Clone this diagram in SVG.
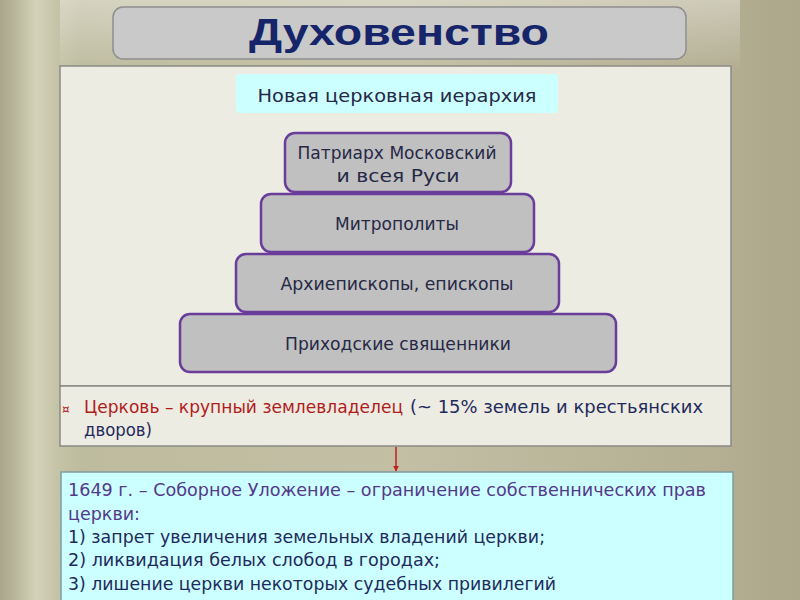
<svg xmlns="http://www.w3.org/2000/svg" width="800" height="600" viewBox="0 0 800 600">
<defs>
<linearGradient id="bg" x1="0" y1="0" x2="1" y2="0">
<stop offset="0" stop-color="#a9a68a"/>
<stop offset="0.02" stop-color="#b9b79c"/>
<stop offset="0.045" stop-color="#d4d3b9"/>
<stop offset="0.07" stop-color="#c6c4a8"/>
<stop offset="0.1" stop-color="#bebc9f"/>
<stop offset="0.5" stop-color="#c2bfa4"/>
<stop offset="0.9" stop-color="#b4af93"/>
<stop offset="1" stop-color="#aca78b"/>
</linearGradient>
<linearGradient id="shine" x1="0" y1="0" x2="0" y2="1">
<stop offset="0" stop-color="#ffffff" stop-opacity="0.35"/>
<stop offset="1" stop-color="#ffffff" stop-opacity="0"/>
</linearGradient>
<marker id="arr" viewBox="0 0 10 10" refX="9" refY="5" markerWidth="6" markerHeight="6" orient="auto" markerUnits="userSpaceOnUse">
<path d="M0,0 L10,5 L0,10 z" fill="#c0201c"/>
</marker>
<style>
.lvl{fill:#c0c0c0;stroke:#6a3d9a;stroke-width:2.5}
.t{font-family:"DejaVu Sans","Liberation Sans",sans-serif;font-size:18px;fill:#262846;text-anchor:middle}
.b{font-family:"DejaVu Sans","Liberation Sans",sans-serif;font-size:17px}
.panel{fill:#edece3;stroke:#8a8a84;stroke-width:1.5}
</style>
</defs>
<rect x="0" y="0" width="800" height="600" fill="url(#bg)"/>
<rect x="60" y="0" width="680" height="70" fill="url(#shine)"/>

<g id="title">
<rect x="113" y="7" width="573" height="52" rx="10" fill="#c9c9c9" stroke="#8e8e8e" stroke-width="1.5"/>
<text x="399" y="45" text-anchor="middle" font-family="'Liberation Sans',Arial,sans-serif" font-weight="bold" font-size="37" fill="#16246a" textLength="300" lengthAdjust="spacingAndGlyphs">Духовенство</text>
</g>

<g id="main-panel">
<rect class="panel" x="60" y="66" width="671" height="320"/>
</g>

<g id="subtitle">
<rect x="236" y="74" width="322" height="39" rx="4" fill="#ccffff"/>
<text class="t" x="397" y="102" fill="#3c2e6e" textLength="279" lengthAdjust="spacingAndGlyphs">Новая церковная иерархия</text>
</g>

<g id="level4">
<rect class="lvl" x="180" y="314" width="436" height="58" rx="10"/>
<text class="t" x="398" y="350" textLength="226" lengthAdjust="spacingAndGlyphs">Приходские священники</text>
</g>
<g id="level3">
<rect class="lvl" x="236" y="254" width="323" height="58" rx="10"/>
<text class="t" x="397" y="290" textLength="233" lengthAdjust="spacingAndGlyphs">Архиепископы, епископы</text>
</g>
<g id="level2">
<rect class="lvl" x="261" y="194" width="273" height="58" rx="10"/>
<text class="t" x="397" y="230" textLength="124" lengthAdjust="spacingAndGlyphs">Митрополиты</text>
</g>
<g id="level1">
<rect class="lvl" x="285" y="133" width="226" height="59" rx="10"/>
<text class="t" x="397" y="159" textLength="199" lengthAdjust="spacingAndGlyphs">Патриарх Московский</text>
<text class="t" x="398" y="182" textLength="123" lengthAdjust="spacingAndGlyphs">и всея Руси</text>
</g>

<g id="land-panel">
<rect class="panel" x="60" y="386" width="671" height="60"/>
<text class="b" y="413"><tspan x="62" fill="#b01c1c" font-size="12">¤</tspan><tspan x="84" fill="#b01c1c" textLength="319" lengthAdjust="spacingAndGlyphs">Церковь – крупный землевладелец</tspan><tspan x="410" fill="#1f2a5c" textLength="293" lengthAdjust="spacingAndGlyphs">(~ 15% земель и крестьянских</tspan></text>
<text class="b" x="84" y="436" fill="#1f2a5c" textLength="68" lengthAdjust="spacingAndGlyphs">дворов)</text>
</g>

<g id="connectors">
<line x1="396" y1="447" x2="396" y2="471" stroke="#c0201c" stroke-width="1.5" marker-end="url(#arr)"/>
</g>

<g id="sobor-box">
<rect x="61" y="472" width="672" height="132" fill="#ccffff" stroke="#7f9c9c" stroke-width="1.5"/>
<text class="b" x="68" y="496" fill="#54398a" textLength="638" lengthAdjust="spacingAndGlyphs">1649 г. – Соборное Уложение – ограничение собственнических прав</text>
<text class="b" x="68" y="520" fill="#54398a" textLength="72" lengthAdjust="spacingAndGlyphs">церкви:</text>
<text class="b" x="68" y="543" fill="#1f2a5c" textLength="477" lengthAdjust="spacingAndGlyphs">1) запрет увеличения земельных владений церкви;</text>
<text class="b" x="68" y="566" fill="#1f2a5c" textLength="372" lengthAdjust="spacingAndGlyphs">2) ликвидация белых слобод в городах;</text>
<text class="b" x="68" y="590" fill="#1f2a5c" textLength="488" lengthAdjust="spacingAndGlyphs">3) лишение церкви некоторых судебных привилегий</text>
</g>
</svg>
